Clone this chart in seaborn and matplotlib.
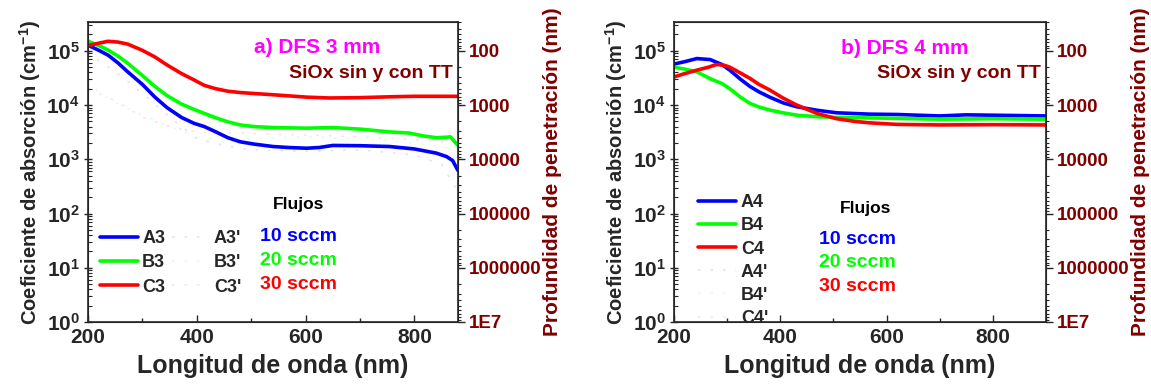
import numpy as np
import pandas as pd
import matplotlib
matplotlib.use("Agg")
import matplotlib.pyplot as plt
import seaborn as sns
from matplotlib.ticker import FixedLocator, NullFormatter, MultipleLocator

# ---------------- data ----------------
# Panel a) DFS 3 mm
wl_A3 = [200, 220, 237, 255, 273, 300, 323, 345, 372, 395, 414, 435, 457, 480, 506, 540, 568, 602, 625, 650, 700, 754, 800, 840, 859, 870, 880]
ab_A3 = [1.27e5, 1.02e5, 8.3e4, 6.0e4, 4.1e4, 2.4e4, 1.4e4, 9.0e3, 5.9e3, 4.6e3, 4.0e3, 3.2e3, 2.5e3, 2.1e3, 1.9e3, 1.72e3, 1.65e3, 1.6e3, 1.65e3, 1.8e3, 1.78e3, 1.72e3, 1.55e3, 1.3e3, 1.12e3, 0.95e3, 0.62e3]
wl_B3 = [200, 220, 237, 255, 273, 300, 323, 345, 372, 395, 414, 435, 457, 480, 506, 540, 568, 602, 650, 700, 754, 790, 816, 840, 859, 866, 880]
ab_B3 = [1.5e5, 1.25e5, 1.03e5, 8.0e4, 5.9e4, 3.5e4, 2.2e4, 1.5e4, 1.04e4, 8.3e3, 7.0e3, 5.8e3, 4.9e3, 4.3e3, 4.0e3, 3.85e3, 3.8e3, 3.75e3, 3.85e3, 3.6e3, 3.2e3, 3.05e3, 2.7e3, 2.5e3, 2.55e3, 2.6e3, 1.8e3]
wl_C3 = [200, 215, 237, 255, 273, 300, 323, 345, 372, 395, 414, 435, 457, 480, 506, 540, 568, 602, 644, 700, 754, 800, 840, 880]
ab_C3 = [1.25e5, 1.35e5, 1.5e5, 1.45e5, 1.33e5, 1.02e5, 7.7e4, 5.5e4, 3.8e4, 2.9e4, 2.3e4, 2.0e4, 1.8e4, 1.7e4, 1.63e4, 1.55e4, 1.48e4, 1.4e4, 1.35e4, 1.37e4, 1.42e4, 1.45e4, 1.45e4, 1.45e4]
# primed series (barely visible)
wl_A3p = [200, 220, 250, 280, 320, 360, 400, 450, 500, 600, 700, 800, 850, 880]
ab_A3p = [1.0e5, 6.5e4, 4.2e4, 2.4e4, 1.1e4, 5.0e3, 2.4e3, 1.8e3, 1.5e3, 1.4e3, 1.5e3, 1.2e3, 8.0e2, 2.5e2]
wl_B3p = [200, 220, 260, 300, 350, 400, 450, 500, 600, 700, 800, 880]
ab_B3p = [3.0e4, 1.7e4, 1.0e4, 6.5e3, 4.0e3, 2.6e3, 2.3e3, 2.4e3, 2.6e3, 2.4e3, 2.0e3, 1.5e3]
wl_C3p = [200, 250, 300, 350, 400, 500, 600, 700, 800, 880]
ab_C3p = [2.0e4, 1.2e4, 6.0e3, 4.0e3, 3.2e3, 3.0e3, 2.8e3, 2.6e3, 2.3e3, 2.0e3]

# Panel b) DFS 4 mm
wl_A4 = [200, 220, 243, 268, 290, 305, 325, 343, 360, 380, 405, 431, 470, 506, 568, 620, 700, 750, 800, 850, 900]
ab_A4 = [5.7e4, 6.3e4, 7.2e4, 6.9e4, 5.6e4, 4.4e4, 3.0e4, 2.2e4, 1.75e4, 1.4e4, 1.1e4, 9.3e3, 8.0e3, 7.2e3, 6.8e3, 6.7e3, 6.3e3, 6.6e3, 6.5e3, 6.4e3, 6.3e3]
wl_B4 = [200, 220, 243, 270, 290, 305, 325, 343, 360, 380, 405, 431, 470, 506, 568, 650, 700, 800, 900]
ab_B4 = [5.0e4, 4.6e4, 4.1e4, 3.0e4, 2.5e4, 2.0e4, 1.4e4, 1.07e4, 9.2e3, 8.1e3, 7.2e3, 6.5e3, 6.1e3, 5.9e3, 5.8e3, 5.6e3, 5.5e3, 5.6e3, 5.5e3]
wl_C4 = [200, 220, 243, 265, 280, 295, 305, 325, 343, 360, 380, 405, 431, 469, 506, 540, 568, 620, 700, 800, 900]
ab_C4 = [3.3e4, 3.8e4, 4.4e4, 5.0e4, 5.6e4, 5.4e4, 5.0e4, 3.9e4, 3.1e4, 2.4e4, 1.9e4, 1.35e4, 1.0e4, 7.0e3, 5.6e3, 5.0e3, 4.7e3, 4.4e3, 4.3e3, 4.35e3, 4.3e3]
wl_A4p = [200, 240, 270, 300, 350, 400, 450, 500, 600, 700, 800, 900]
ab_A4p = [5.8e4, 7.0e4, 6.8e4, 4.8e4, 2.1e4, 1.2e4, 9.0e3, 7.3e3, 6.7e3, 6.4e3, 6.5e3, 6.3e3]
wl_B4p = [200, 240, 270, 300, 350, 400, 450, 500, 600, 700, 800, 900]
ab_B4p = [5.0e4, 4.2e4, 3.1e4, 2.2e4, 1.05e4, 7.5e3, 6.3e3, 5.9e3, 5.7e3, 5.5e3, 5.6e3, 5.5e3]
wl_C4p = [200, 240, 280, 300, 350, 400, 450, 500, 600, 700, 800, 900]
ab_C4p = [3.4e4, 4.4e4, 5.6e4, 5.2e4, 2.8e4, 1.45e4, 8.5e3, 5.8e3, 4.5e3, 4.3e3, 4.35e3, 4.3e3]

flow_labels = ["10 sccm", "20 sccm", "30 sccm"]
left_tick_vals = [1e0, 1e1, 1e2, 1e3, 1e4, 1e5]
left_tick_labels = [r"$\mathbf{10^{%d}}$" % i for i in range(6)]
right_tick_vals = [1e2, 1e3, 1e4, 1e5, 1e6, 1e7]
right_tick_labels = ["100", "1000", "10000", "100000", "1000000", "1E7"]
x_ticks = [200, 400, 600, 800]

# ---------------- style ----------------
sns.set_style("ticks")
plt.rcParams["font.family"] = ["Liberation Sans", "DejaVu Sans"]
plt.rcParams["font.weight"] = "bold"
plt.rcParams["mathtext.fontset"] = "custom"
plt.rcParams["mathtext.rm"] = "Liberation Sans:bold"
plt.rcParams["mathtext.bf"] = "Liberation Sans:bold"
plt.rcParams["mathtext.it"] = "Liberation Sans:bold"

BLUE, GREEN, RED = "#0000FF", "#00FF00", "#FF0000"
DARKRED = "#800000"
MAGENTA = "#FF00FF"
colors = [BLUE, GREEN, RED]

fig = plt.figure(figsize=(11.51, 3.92), dpi=100)
W, H = 1151, 392
ax_a = fig.add_axes([88 / W, 70 / H, 370 / W, 300 / H])
ax_b = fig.add_axes([674 / W, 70 / H, 372 / W, 300 / H])

YMAX = 3.4e5


def draw(ax, solid, primed, xmax):
    for (name, wl, ab), c in zip(solid, colors):
        df = pd.DataFrame({"wl": wl, "ab": ab})
        sns.lineplot(data=df, x="wl", y="ab", ax=ax, color=c, lw=2.6, label=name)
    for (name, wl, ab), c in zip(primed, colors):
        df = pd.DataFrame({"wl": wl, "ab": ab})
        sns.lineplot(data=df, x="wl", y="ab", ax=ax, color=c, lw=1.2, alpha=0.12,
                     linestyle=(0, (1.5, 6)), label=name)
    ax.set_yscale("log")
    ax.set_xlim(200, xmax)
    ax.set_ylim(1, YMAX)
    ax.yaxis.set_major_locator(FixedLocator(left_tick_vals))
    ax.set_yticklabels(left_tick_labels, fontsize=15)
    ax.set_xticks(x_ticks)
    ax.set_xticklabels([str(v) for v in x_ticks], fontsize=15, fontweight="bold")
    ax.xaxis.set_minor_locator(MultipleLocator(100))
    ax.tick_params(axis="x", which="both", direction="in", top=False, pad=4)
    ax.tick_params(axis="x", which="major", length=5, width=1)
    ax.tick_params(axis="x", which="minor", length=3, width=1)
    ax.tick_params(axis="y", which="major", direction="inout", length=6, width=1, pad=3)
    ax.tick_params(axis="y", which="minor", direction="in", length=3, width=0.8)
    ax.set_xlabel("Longitud de onda (nm)", fontsize=18, fontweight="bold", labelpad=5)
    ax.set_ylabel("Coeficiente de absorción (cm$^{\\mathbf{-1}}$)", fontsize=14.5,
                  fontweight="bold", labelpad=2)
    for s in ax.spines.values():
        s.set_linewidth(1.2)
    # right axis: penetration depth = 1e7 / alpha (nm)
    axr = ax.twinx()
    axr.set_yscale("log")
    axr.set_ylim(1e7, 1e7 / YMAX)
    axr.yaxis.set_major_locator(FixedLocator(right_tick_vals))
    axr.set_yticklabels(right_tick_labels, fontsize=13.5, fontweight="bold", color=DARKRED)
    axr.tick_params(axis="y", which="major", direction="out", length=5, width=1, pad=3)
    axr.tick_params(axis="y", which="minor", direction="out", length=2.5, width=0.8)
    axr.set_ylabel("Profundidad de penetración (nm)", fontsize=15, fontweight="bold",
                   color=DARKRED, labelpad=1)
    return ax


draw(ax_a,
     [("A3", wl_A3, ab_A3), ("B3", wl_B3, ab_B3), ("C3", wl_C3, ab_C3)],
     [("A3'", wl_A3p, ab_A3p), ("B3'", wl_B3p, ab_B3p), ("C3'", wl_C3p, ab_C3p)],
     880)
draw(ax_b,
     [("A4", wl_A4, ab_A4), ("B4", wl_B4, ab_B4), ("C4", wl_C4, ab_C4)],
     [("A4'", wl_A4p, ab_A4p), ("B4'", wl_B4p, ab_B4p), ("C4'", wl_C4p, ab_C4p)],
     900)

# legends
h, l = ax_a.get_legend_handles_labels()
leg = ax_a.legend(h, l, ncol=2, loc="upper left", bbox_to_anchor=(-0.012, 0.36),
                  frameon=False, handlelength=2.1, handletextpad=0.25,
                  columnspacing=0.35, labelspacing=0.4,
                  prop={"weight": "bold", "size": 13})

h, l = ax_b.get_legend_handles_labels()
leg = ax_b.legend(h, l, ncol=1, loc="upper left", bbox_to_anchor=(0.02, 0.48),
                  frameon=False, handlelength=2.1, handletextpad=0.3,
                  labelspacing=0.34, prop={"weight": "bold", "size": 13})

# annotations panel a
ax_a.text(0.62, 0.915, "a) DFS 3 mm", transform=ax_a.transAxes, color=MAGENTA,
          fontsize=15, fontweight="bold", ha="center", va="center")
ax_a.text(0.985, 0.83, "SiOx sin y con TT", transform=ax_a.transAxes, color=DARKRED,
          fontsize=14, fontweight="bold", ha="right", va="center")
ax_a.text(0.57, 0.39, "Flujos", transform=ax_a.transAxes, color="black",
          fontsize=12.5, fontweight="bold", ha="center", va="center")
for i, (t, c) in enumerate(zip(flow_labels, colors)):
    ax_a.text(0.465, 0.286 - i * 0.08, t, transform=ax_a.transAxes, color=c,
              fontsize=14, fontweight="bold", ha="left", va="center")

# annotations panel b
ax_b.text(0.62, 0.91, "b) DFS 4 mm", transform=ax_b.transAxes, color=MAGENTA,
          fontsize=15, fontweight="bold", ha="center", va="center")
ax_b.text(0.985, 0.83, "SiOx sin y con TT", transform=ax_b.transAxes, color=DARKRED,
          fontsize=14, fontweight="bold", ha="right", va="center")
ax_b.text(0.515, 0.38, "Flujos", transform=ax_b.transAxes, color="black",
          fontsize=12.5, fontweight="bold", ha="center", va="center")
for i, (t, c) in enumerate(zip(flow_labels, colors)):
    ax_b.text(0.39, 0.275 - i * 0.078, t, transform=ax_b.transAxes, color=c,
              fontsize=14, fontweight="bold", ha="left", va="center")

fig.savefig("out.png", dpi=100)
